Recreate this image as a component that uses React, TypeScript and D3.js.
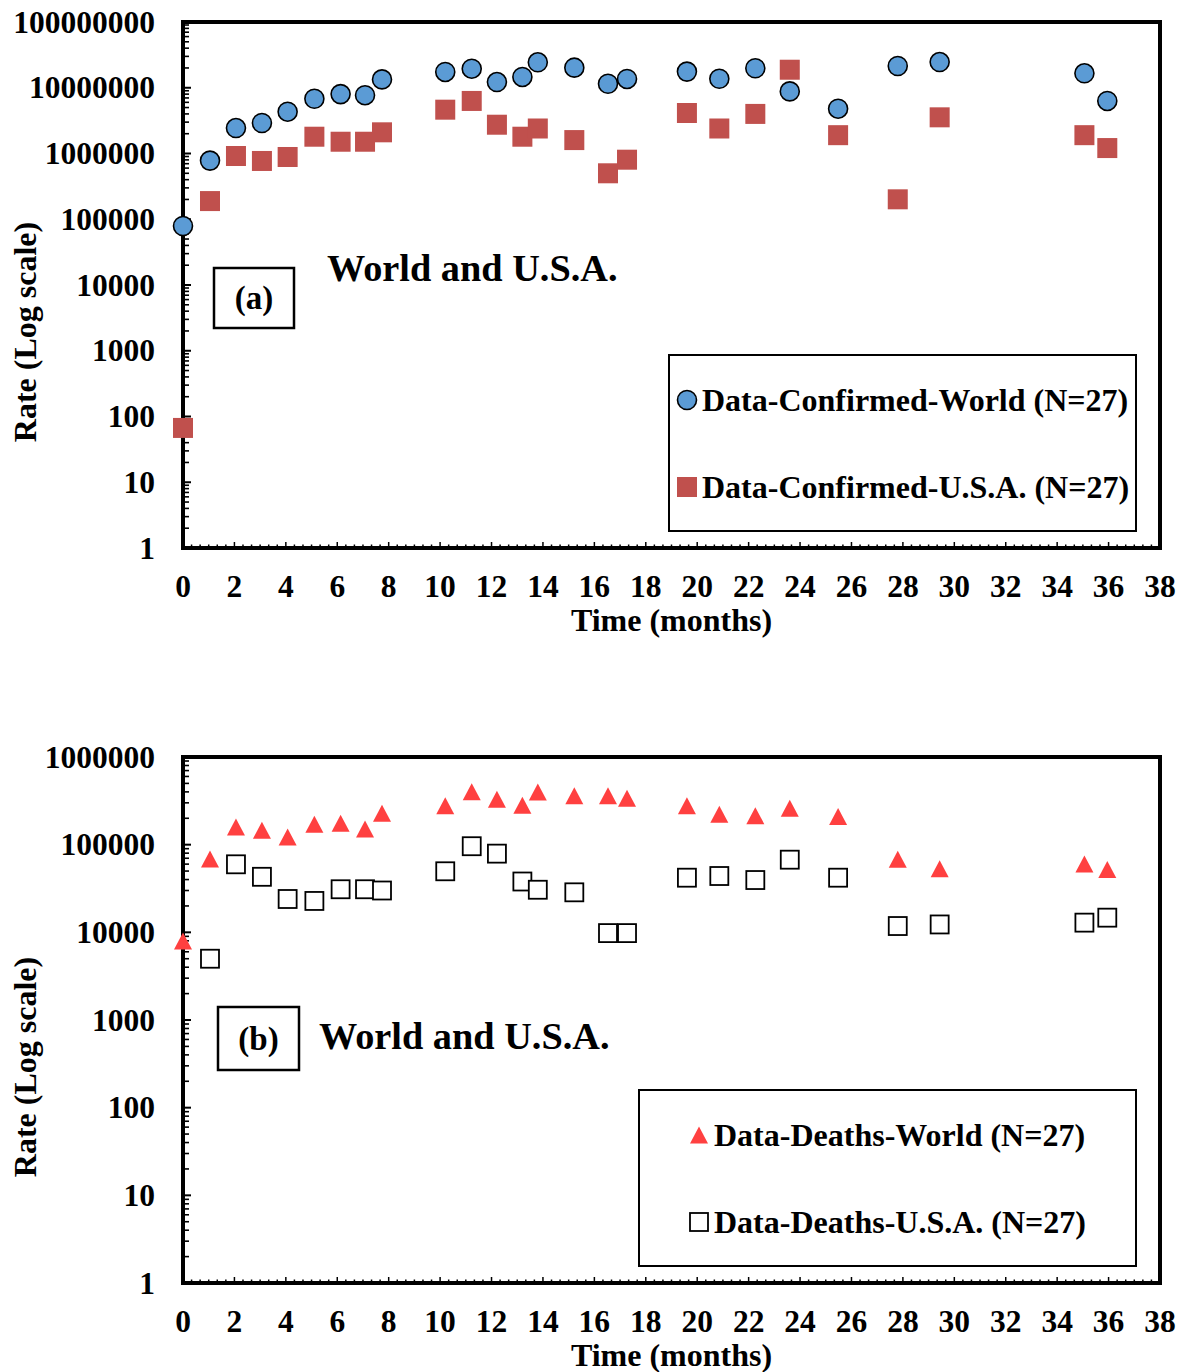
import React from "react";
import * as d3 from "d3";

const months = [0, 1.05, 2.06, 3.07, 4.07, 5.11, 6.13, 7.08, 7.74, 10.2, 11.23, 12.21, 13.2, 13.8, 15.22, 16.53, 17.27, 19.6, 20.86, 22.26, 23.6, 25.48, 27.8, 29.43, 35.06, 35.95];
const worldConfirmed = [79000, 780000, 2440000, 2910000, 4320000, 6800000, 8000000, 7700000, 13400000, 17400000, 19500000, 12200000, 14600000, 24400000, 20200000, 11500000, 13600000, 17600000, 13700000, 19800000, 8800000, 4800000, 21400000, 24600000, 16600000, 6300000];
const usaConfirmed = [67, 189000, 916000, 770000, 885000, 1800000, 1510000, 1510000, 2100000, 4640000, 6300000, 2740000, 1800000, 2400000, 1600000, 500000, 805000, 4130000, 2400000, 4000000, 18800000, 1900000, 201000, 3550000, 1900000, 1210000];
const worldDeaths = [7950, 68600, 159000, 146000, 122000, 171000, 175000, 151000, 228000, 278000, 402000, 329000, 281000, 398000, 361000, 361000, 338000, 278000, 222000, 214000, 260000, 210000, 68000, 53000, 60000, 52000];
const usaDeaths: (number | null)[] = [null, 5000, 59700, 43000, 24000, 22800, 31000, 31000, 30000, 49700, 96000, 79000, 38000, 30600, 28600, 9800, 9800, 42000, 43900, 39500, 67400, 42000, 11800, 12300, 12900, 14700];

const xTickLabels = d3.range(0, 39, 2);
const legendTop = ["Data-Confirmed-World (N=27)", "Data-Confirmed-U.S.A. (N=27)"];
const legendBottom = ["Data-Deaths-World (N=27)", "Data-Deaths-U.S.A. (N=27)"];
const panelTitle = "World and U.S.A.";
const xTitle = "Time (months)";
const yTitle = "Rate (Log scale)";

const FONT = "'Liberation Serif', 'Times New Roman', serif";
const BLUE = "#5B9BD5";
const RED = "#C0504D";
const TRI = "#FF4040";

const X0 = 183, X1 = 1160;

function triPath(cx: number, cy: number, w: number, h: number) {
  return `M${cx},${cy - h / 2}L${cx + w / 2},${cy + h / 2}L${cx - w / 2},${cy + h / 2}Z`;
}

type Marker = "circle" | "square" | "triangle" | "hollow";

function MarkerShape({ kind, cx, cy }: { kind: Marker; cx: number; cy: number }) {
  if (kind === "circle") return <circle cx={cx} cy={cy} r={9.5} fill={BLUE} stroke="#000" strokeWidth={1.6} />;
  if (kind === "square") return <rect x={cx - 10} y={cy - 10} width={20} height={20} fill={RED} />;
  if (kind === "triangle") return <path d={triPath(cx, cy, 18, 17)} fill={TRI} />;
  return <rect x={cx - 9} y={cy - 9} width={18} height={18} fill="#fff" stroke="#000" strokeWidth={1.8} />;
}

function Panel(props: {
  top: number; bottom: number; maxExp: number;
  series: { values: (number | null)[]; kind: Marker }[];
  legend: string[]; legendBox: [number, number, number, number];
  legendRows: { y: number; mx: number; tx: number }[];
  tagBox: [number, number, number, number]; tag: string; tagBaseline: number;
  titleX: number; titleBaseline: number;
  yTitleY: number;
}) {
  const { top, bottom, maxExp } = props;
  const x = d3.scaleLinear().domain([0, 38]).range([X0, X1]);
  const y = d3.scaleLog().domain([1, Math.pow(10, maxExp)]).range([bottom, top]);
  const decades = d3.range(0, maxExp + 1).map((e) => Math.pow(10, e));
  const minors: number[] = [];
  for (let e = 0; e < maxExp; e++) for (let k = 2; k <= 9; k++) minors.push(k * Math.pow(10, e));
  const xMinor = d3.range(0, 38 * 3 + 1).map((i) => i / 3);
  const [lx, ly, lw, lh] = props.legendBox;
  const [tx, ty, tw, th] = props.tagBox;
  return (
    <g>
      {minors.map((v, i) => (
        <line key={"ym" + i} x1={X0} x2={X0 + 6} y1={y(v)} y2={y(v)} stroke="#000" strokeWidth={1.6} />
      ))}
      {decades.map((v, i) => (
        <line key={"yM" + i} x1={X0} x2={X0 + 8} y1={y(v)} y2={y(v)} stroke="#000" strokeWidth={2} />
      ))}
      {xMinor.map((t, i) => (
        <line key={"xm" + i} x1={x(t)} x2={x(t)} y1={bottom} y2={bottom - (i % 6 === 0 ? 6 : 3.5)} stroke="#000" strokeWidth={1.5} />
      ))}
      <rect x={X0} y={top} width={X1 - X0} height={bottom - top} fill="none" stroke="#000" strokeWidth={4} />
      {decades.map((v, i) => (
        <text key={"yl" + i} x={155} y={y(v) + 10.5} textAnchor="end" fontFamily={FONT} fontWeight="bold" fontSize={31.5}>{String(v)}</text>
      ))}
      {xTickLabels.map((t) => (
        <text key={"xl" + t} x={x(t)} y={bottom + 49} textAnchor="middle" fontFamily={FONT} fontWeight="bold" fontSize={31.5}>{String(t)}</text>
      ))}
      <text x={(X0 + X1) / 2} y={bottom + 83} textAnchor="middle" fontFamily={FONT} fontWeight="bold" fontSize={32}>{xTitle}</text>
      <text transform={`translate(36,${props.yTitleY}) rotate(-90)`} textAnchor="middle" fontFamily={FONT} fontWeight="bold" fontSize={32}>{yTitle}</text>
      <rect x={tx} y={ty} width={tw} height={th} fill="none" stroke="#000" strokeWidth={2.5} />
      <text x={tx + tw / 2} y={props.tagBaseline} textAnchor="middle" fontFamily={FONT} fontWeight="bold" fontSize={33}>{props.tag}</text>
      <text x={props.titleX} y={props.titleBaseline} fontFamily={FONT} fontWeight="bold" fontSize={38.3}>{panelTitle}</text>
      <rect x={lx} y={ly} width={lw} height={lh} fill="#fff" stroke="#000" strokeWidth={2} />
      {props.legendRows.map((r, i) => (
        <g key={"lg" + i}>
          <MarkerShape kind={props.series[i].kind} cx={r.mx} cy={r.y} />
          <text x={r.tx} y={r.y + 11} fontFamily={FONT} fontWeight="bold" fontSize={32}>{props.legend[i]}</text>
        </g>
      ))}
      {props.series.map((s, si) => (
        <g key={"s" + si}>
          {s.values.map((v, i) => (v == null ? null : <MarkerShape key={i} kind={s.kind} cx={x(months[i])} cy={y(v)} />))}
        </g>
      ))}
    </g>
  );
}

export default function App() {
  return (
    <svg width={1184} height={1372} style={{ position: "absolute", left: 0, top: 0, background: "#fff" }}>
      <rect x={0} y={0} width={1184} height={1372} fill="#fff" />
      <Panel
        top={22} bottom={548} maxExp={8}
        series={[{ values: worldConfirmed, kind: "circle" }, { values: usaConfirmed, kind: "square" }]}
        legend={legendTop}
        legendBox={[669, 355, 467, 176]}
        legendRows={[{ y: 400, mx: 687, tx: 702 }, { y: 487, mx: 687, tx: 702 }]}
        tagBox={[214, 268, 80, 60]} tag="(a)" tagBaseline={309}
        titleX={327} titleBaseline={281}
        yTitleY={332}
      />
      <Panel
        top={757} bottom={1283} maxExp={6}
        series={[{ values: worldDeaths, kind: "triangle" }, { values: usaDeaths, kind: "hollow" }]}
        legend={legendBottom}
        legendBox={[639, 1090, 497, 176]}
        legendRows={[{ y: 1135, mx: 699, tx: 714 }, { y: 1222, mx: 699, tx: 714 }]}
        tagBox={[218, 1007, 81, 63]} tag="(b)" tagBaseline={1050}
        titleX={319} titleBaseline={1049}
        yTitleY={1067}
      />
    </svg>
  );
}
